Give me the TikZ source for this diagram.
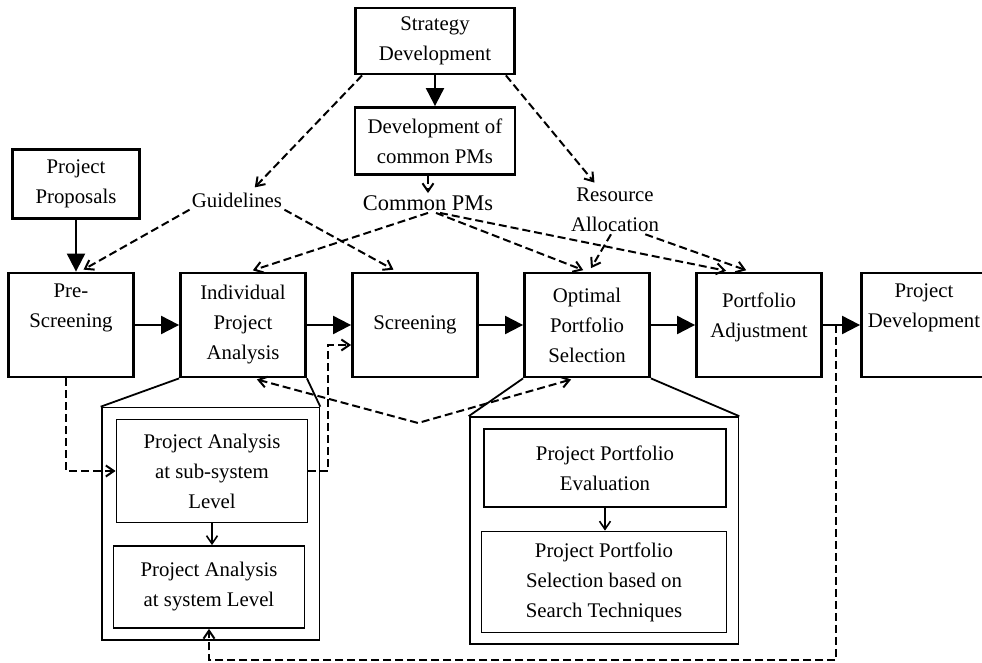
\documentclass[tikz,border=0pt]{standalone}
\usepackage{fontspec}
\setmainfont{Liberation Serif}
\usetikzlibrary{positioning,arrows.meta,fit,calc}

\begin{document}
\begin{tikzpicture}[x=0.5pt, y=-0.5pt, node distance=86pt,
    font=\fontsize{10.4}{15}\selectfont,
    >={Straight Barb[length=4pt, width=5.5pt]},
    box/.style={draw, line width=1.4pt, minimum width=62.5pt, minimum height=52pt, align=center, inner sep=1pt},
    topbox/.style={draw, line width=1.4pt, minimum width=79.5pt, minimum height=33pt, align=center, inner sep=1pt},
    subbox/.style={draw, line width=0.9pt, align=center, inner sep=1pt},
    frame/.style={draw, line width=0.9pt, inner sep=5.5pt},
    lbl/.style={align=center, inner sep=1pt},
    bigarrow/.style={line width=1pt, -{Triangle[length=9pt, width=9pt]}},
    dasharrow/.style={dash pattern=on 4pt off 2pt, line width=1pt, ->, shorten >= 2pt},
    thinarrow/.style={line width=0.8pt, ->}]

    \useasboundingbox (0,0) rectangle (982,663);

    % top of the chart
    \node [topbox] (strat) at (435,41) {Strategy\\Development};
    \node [topbox, minimum width=80pt, minimum height=33.5pt] (devpm) at (435,141) {Development of\\common PMs};
    \node [topbox, minimum width=63.5pt, minimum height=34.5pt] (prop) at (76,184) {Project\\Proposals};

    \node [lbl] (guide) at (237,200) {Guidelines};
    \node [lbl, font=\fontsize{11.2}{15}\selectfont] (common) at (428,203) {Common PMs};
    \node [lbl] (res) at (615,210) {Resource\\Allocation};

    % main row
    \node [box] (pres) at (71,325) {Pre-\\Screening\\\strut};
    \node [box] (ipa) [right of=pres] {Individual\\Project\\Analysis};
    \node [box] (scr) [right of=ipa] {Screening};
    \node [box] (ops) [right of=scr] {Optimal\\Portfolio\\Selection};
    \node [box] (pa) [right of=ops] {Portfolio\\Adjustment\\[-10pt]\strut};
    \node [box] (pd) [right of=pa, xshift=-3.5pt] {Project\\Development\\\strut};

    % insets
    \node [subbox, minimum width=95.5pt, minimum height=51.5pt] (sub) at (212,471) {Project Analysis\\at sub-system\\Level};
    \node [subbox, minimum width=95.5pt, minimum height=41pt] (sys) at (209,587) {Project Analysis\\at system Level};
    \node [frame, fit=(sub)(sys)] (leftin) {};
    \node [subbox, minimum width=121pt, minimum height=39pt] (eval) at (605,468) {Project Portfolio\\Evaluation};
    \node [subbox, minimum width=122.5pt, minimum height=50.5pt] (search) at (604,582) {Project Portfolio\\Selection based on\\Search Techniques};
    \node [frame, fit=(eval)(search)] (rightin) {};

    \draw [line width=0.9pt] (ipa.south west) -- (leftin.north west);
    \draw [line width=0.9pt] (ipa.south east) -- (leftin.north east);
    \draw [line width=0.9pt] (ops.south west) -- (rightin.north west);
    \draw [line width=0.9pt] (ops.south east) -- (rightin.north east);

    % solid flow
    \draw [bigarrow] (strat) -- (devpm);
    \draw [bigarrow] (prop.south) -- (prop.south |- pres.north);
    \draw [bigarrow] (pres) -- (ipa);
    \draw [bigarrow] (ipa) -- (scr);
    \draw [bigarrow] (scr) -- (ops);
    \draw [bigarrow] (ops) -- (pa);
    \draw [bigarrow] (pa) -- (pd);

    \draw [thinarrow] (sub) -- (sub |- sys.north);
    \draw [thinarrow] (eval) -- (eval |- search.north);

    % dashed links
    \draw [dasharrow] ([xshift=4pt]strat.south west) -- ([xshift=7.5pt]guide.north);
    \draw [dasharrow] ([xshift=-5pt]strat.south east) -- ([xshift=-9pt]res.north);
    \draw [dasharrow, shorten >=0pt] (devpm.south -| common) -- (common.north);

    \draw [dasharrow] (guide.south west) -- ([xshift=4.5pt]pres.north);
    \draw [dasharrow] (guide.south east) -- ([xshift=-9pt]scr.north);

    \draw [dasharrow] (common.south) -- ([xshift=3pt]ipa.north);
    \draw [dasharrow] ([xshift=4pt]common.south) -- (ops.north);
    \draw [dasharrow] ([xshift=6pt]common.south) -- ([xshift=-14.5pt]pa.north);

    \draw [dasharrow] ([xshift=-2pt]res.south) -- ([xshift=1pt]ops.north);
    \draw [dasharrow] ([xshift=-8pt]res.south east) -- ([xshift=-4.5pt]pa.north);

    \coordinate (vtx) at (418,423);
    \draw [dasharrow, <->, shorten <=2pt] ([xshift=5pt]ipa.south) -- (vtx) -- ([xshift=-6pt]ops.south);

    \draw [dasharrow, shorten >=0pt] ([xshift=-2.5pt]pres.south) |- (sub.west);
    \draw [dasharrow, shorten >=0pt] (sub.east) -- ++(20,0) |- ([yshift=-10pt]scr.west);

    \coordinate (tap) at ($(pa.east)!0.36!(pd.west)$);
    \coordinate (bot) at (0,660);
    \draw [dasharrow, shorten >=0pt] (tap) -- (tap |- bot) -| (sys.south);

\end{tikzpicture}
\end{document}
